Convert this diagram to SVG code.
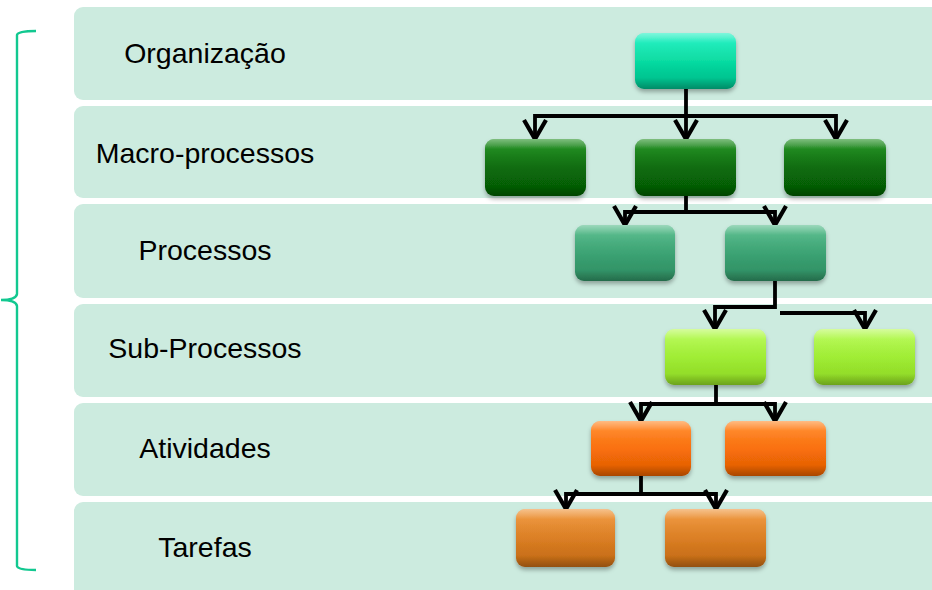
<svg xmlns="http://www.w3.org/2000/svg" width="932" height="590" viewBox="0 0 932 590">
<style>
.band{fill:#CCEBDF}
.lbl{font-family:"Liberation Sans",Arial,sans-serif;font-size:28.5px;fill:#000;text-anchor:middle}
.box{filter:url(#sh)}
.hl{fill:url(#gloss)}
.conn path{fill:none;stroke:#000;stroke-width:3.8;stroke-linejoin:miter}
.arr{marker-end:url(#v)}
.brace{fill:none;stroke:#12C890;stroke-width:2.4}
</style>
<defs>
<filter id="sh" x="-20%" y="-20%" width="140%" height="160%">
<feDropShadow dx="0" dy="3" stdDeviation="2.2" flood-color="#000" flood-opacity="0.3"/>
</filter>
<marker id="v" markerUnits="userSpaceOnUse" markerWidth="40" markerHeight="40" refX="0" refY="0" orient="auto" overflow="visible">
<path d="M-19,-11 L0,0 L-19,11" fill="none" stroke="#000" stroke-width="4.2"/>
</marker>
<linearGradient id="gloss" x1="0" y1="0" x2="0" y2="1">
<stop offset="0" stop-color="#fff" stop-opacity="0.45"/>
<stop offset="0.18" stop-color="#fff" stop-opacity="0.08"/>
<stop offset="0.8" stop-color="#000" stop-opacity="0"/>
<stop offset="1" stop-color="#000" stop-opacity="0.22"/>
</linearGradient>
<linearGradient id="gOrg" x1="0" y1="0" x2="0" y2="1"><stop offset="0" stop-color="#14F0C0"/><stop offset="0.5" stop-color="#06E0A4"/><stop offset="1" stop-color="#05B384"/></linearGradient>
<linearGradient id="gMac" x1="0" y1="0" x2="0" y2="1"><stop offset="0" stop-color="#158A15"/><stop offset="0.5" stop-color="#086C08"/><stop offset="1" stop-color="#055805"/></linearGradient>
<linearGradient id="gPro" x1="0" y1="0" x2="0" y2="1"><stop offset="0" stop-color="#4CB884"/><stop offset="0.5" stop-color="#3AA574"/><stop offset="1" stop-color="#2E8A60"/></linearGradient>
<linearGradient id="gSub" x1="0" y1="0" x2="0" y2="1"><stop offset="0" stop-color="#B4FA50"/><stop offset="0.5" stop-color="#A2F232"/><stop offset="1" stop-color="#8AD024"/></linearGradient>
<linearGradient id="gAti" x1="0" y1="0" x2="0" y2="1"><stop offset="0" stop-color="#FF8420"/><stop offset="0.5" stop-color="#FF7008"/><stop offset="1" stop-color="#D85A04"/></linearGradient>
<linearGradient id="gTar" x1="0" y1="0" x2="0" y2="1"><stop offset="0" stop-color="#EE9030"/><stop offset="0.5" stop-color="#E08022"/><stop offset="1" stop-color="#BC6614"/></linearGradient>
</defs>

<g id="bands">
<rect class="band" x="74" y="7" width="880" height="93" rx="9"/>
<rect class="band" x="74" y="106" width="880" height="92" rx="9"/>
<rect class="band" x="74" y="204" width="880" height="94" rx="9"/>
<rect class="band" x="74" y="304" width="880" height="93" rx="9"/>
<rect class="band" x="74" y="403" width="880" height="93" rx="9"/>
<rect class="band" x="74" y="502" width="880" height="100" rx="9"/>
</g>

<g id="labels">
<text class="lbl" x="205" y="63">Organização</text>
<text class="lbl" x="205" y="163">Macro-processos</text>
<text class="lbl" x="205" y="260">Processos</text>
<text class="lbl" x="205" y="358">Sub-Processos</text>
<text class="lbl" x="205" y="458">Atividades</text>
<text class="lbl" x="205" y="557">Tarefas</text>
</g>

<g id="brace">
<path class="brace" d="M36,31 Q18,31 17,35 V294 Q16,300 1,300 Q16,300 17,306 V566 Q18,570 36,570"/>
</g>

<g id="connectors" class="conn">
<path class="arr" d="M686,89 V116 H535 V139"/>
<path class="arr" d="M686,116 V139"/>
<path class="arr" d="M686,116 H836 V139"/>
<path class="arr" d="M686,196 V212 H625 V225"/>
<path class="arr" d="M686,212 H775 V225"/>
<path class="arr" d="M775,281 V307 H715 V329"/>
<path class="arr" d="M780,313 H865 V329"/>
<path class="arr" d="M716,385 V404 H641 V421"/>
<path class="arr" d="M716,404 H775 V421"/>
<path class="arr" d="M641,476 V494 H566 V509"/>
<path class="arr" d="M641,494 H716 V509"/>
</g>

<g id="n-org"><rect class="box" x="635" y="33" width="101" height="56" rx="9" fill="url(#gOrg)"/><rect class="hl" x="635" y="33" width="101" height="56" rx="9"/></g>
<g id="n-mac1"><rect class="box" x="485" y="139" width="101" height="57" rx="9" fill="url(#gMac)"/><rect class="hl" x="485" y="139" width="101" height="57" rx="9"/></g>
<g id="n-mac2"><rect class="box" x="635" y="139" width="101" height="57" rx="9" fill="url(#gMac)"/><rect class="hl" x="635" y="139" width="101" height="57" rx="9"/></g>
<g id="n-mac3"><rect class="box" x="784" y="139" width="102" height="57" rx="9" fill="url(#gMac)"/><rect class="hl" x="784" y="139" width="102" height="57" rx="9"/></g>
<g id="n-pro1"><rect class="box" x="575" y="225" width="100" height="56" rx="9" fill="url(#gPro)"/><rect class="hl" x="575" y="225" width="100" height="56" rx="9"/></g>
<g id="n-pro2"><rect class="box" x="725" y="225" width="101" height="56" rx="9" fill="url(#gPro)"/><rect class="hl" x="725" y="225" width="101" height="56" rx="9"/></g>
<g id="n-sub1"><rect class="box" x="665" y="329" width="101" height="56" rx="9" fill="url(#gSub)"/><rect class="hl" x="665" y="329" width="101" height="56" rx="9"/></g>
<g id="n-sub2"><rect class="box" x="814" y="329" width="101" height="56" rx="9" fill="url(#gSub)"/><rect class="hl" x="814" y="329" width="101" height="56" rx="9"/></g>
<g id="n-ati1"><rect class="box" x="591" y="421" width="100" height="55" rx="9" fill="url(#gAti)"/><rect class="hl" x="591" y="421" width="100" height="55" rx="9"/></g>
<g id="n-ati2"><rect class="box" x="725" y="421" width="101" height="55" rx="9" fill="url(#gAti)"/><rect class="hl" x="725" y="421" width="101" height="55" rx="9"/></g>
<g id="n-tar1"><rect class="box" x="516" y="509" width="99" height="58" rx="9" fill="url(#gTar)"/><rect class="hl" x="516" y="509" width="99" height="58" rx="9"/></g>
<g id="n-tar2"><rect class="box" x="665" y="509" width="101" height="58" rx="9" fill="url(#gTar)"/><rect class="hl" x="665" y="509" width="101" height="58" rx="9"/></g>
</svg>
